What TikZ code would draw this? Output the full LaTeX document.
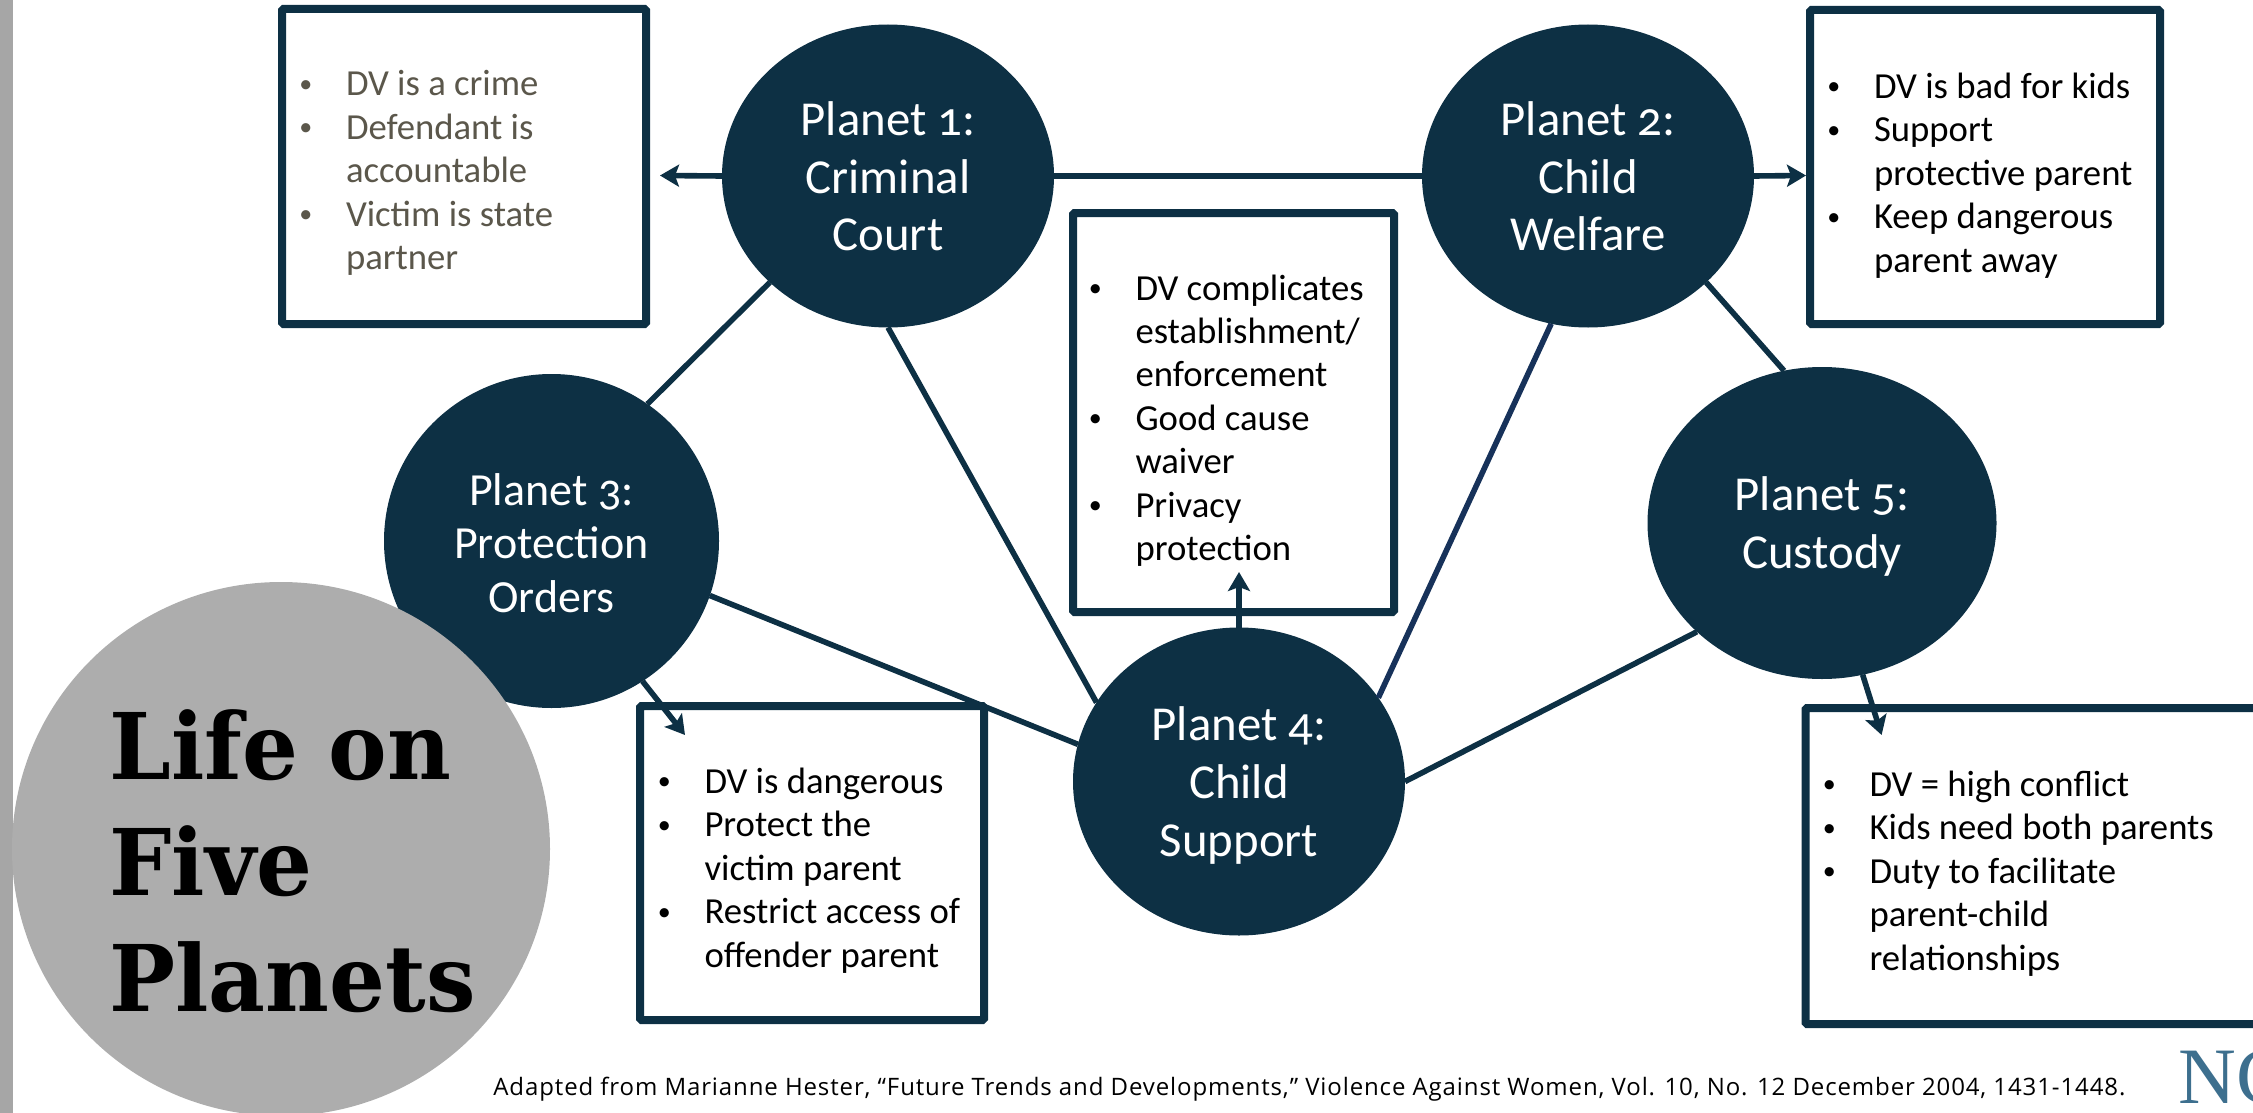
\documentclass[tikz,border=0pt]{standalone}
\usepackage{fontspec}
\usetikzlibrary{shapes.geometric,arrows.meta}
\setmainfont[Numbers=OldStyle]{Carlito}
\newfontfamily\titlefont[FakeStretch=0.955]{DejaVu Serif}
\newfontfamily\notefont[LetterSpace=3.7]{Open Sans}
\newfontfamily\logofont{Liberation Serif}
\definecolor{planetblue}{HTML}{0D3044}
\definecolor{navyline}{HTML}{17325A}
\definecolor{barGrey}{HTML}{A6A6A6}
\definecolor{discGrey}{HTML}{ADADAD}
\definecolor{mutedText}{HTML}{5B574B}
\definecolor{logoBlue}{HTML}{3D6F8E}
\newcommand{\bl}{\makebox[25pt][l]{\hspace{1.7pt}\raisebox{1.8pt}{\fontsize{13}{13}\selectfont •}}}
\newcommand{\ind}{\hspace*{25pt}}
\newcommand{\dropline}[1]{\rule{0pt}{#1}}
\tikzset{
  planet/.style={ellipse,fill=planetblue,draw=none,inner sep=0pt,outer sep=0pt,text=white,align=center,
    font=\fontsize{24.4}{28.8}\selectfont},
  infobox/.style={rectangle,draw=planetblue,line width=4pt,fill=white,inner sep=0pt,outer sep=0pt,rounded corners=0.8pt},
  bullets/.style={inner sep=0pt,outer sep=0pt,anchor=west,align=left,font=\fontsize{18.35}{21.7}\selectfont},
  link/.style={draw=planetblue,line width=2.8pt},
  pointer/.style={link,-{Stealth[length=9.5pt,width=11pt,inset=2pt]}},
}
\begin{document}
\begin{tikzpicture}[x=0.5pt,y=-0.5pt]
\useasboundingbox (0,0) rectangle (2253,1113);
\clip (0,0) rectangle (2253,1113);
\fill[barGrey] (0,0) rectangle (13,1113);

% boxes (size = outer edge minus border)
\node[infobox,minimum width=182pt,minimum height=157.5pt] (b1) at (464,166.5) {};
\node[infobox,minimum width=175pt,minimum height=157pt] (b2) at (1985,167) {};
\node[infobox,minimum width=160.5pt,minimum height=199.5pt] (b4) at (1233.5,412.5) {};
\node[infobox,minimum width=172pt,minimum height=157pt] (b3) at (812,863) {};
\node[infobox,minimum width=232.5pt,minimum height=158pt] (b5) at (2038,866) {};

% planets
\node[planet,minimum width=166pt,minimum height=151.5pt] (p1) at (888,176) {\dropline{17.5pt}Planet 1:\\Criminal\\Court};
\node[planet,minimum width=166pt,minimum height=151.5pt] (p2) at (1588,176) {\dropline{17.5pt}Planet 2:\\Child\\Welfare};
\node[planet,minimum width=167.5pt,minimum height=167pt,font=\fontsize{23}{26.6}\selectfont] (p3) at (551.5,541) {\dropline{18pt}Planet 3:\\Protection\\Orders};
\node[planet,minimum width=166pt,minimum height=154pt] (p4) at (1239,781.5) {\dropline{21pt}Planet 4:\\Child\\Support};
\node[planet,minimum width=174.5pt,minimum height=156pt] (p5) at (1822,523) {\dropline{20.5pt}Planet 5:\\Custody};

% box texts
\node[bullets,text=mutedText] (t1) at (296,173) {\bl DV is a crime\\\bl Defendant is\\\ind accountable\\\bl Victim is state\\\ind partner};
\node[bullets] (t2) at (1824,175.5) {\bl DV is bad for kids\\\bl Support\\\ind protective parent\\\bl Keep dangerous\\\ind parent away};
\node[bullets] (t4) at (1085.5,420.5) {\bl DV complicates\\\ind establishment/\\\ind enforcement\\\bl Good cause\\\ind waiver\\\bl Privacy\\\ind protection};
\node[bullets] (t3) at (654.5,870.5) {\bl DV is dangerous\\\bl Protect the\\\ind victim parent\\\bl Restrict access of\\\ind offender parent};
\node[bullets] (t5) at (1819.5,873.5) {\bl DV = high conflict\\\bl Kids need both parents\\\bl Duty to facilitate\\\ind parent-child\\\ind relationships};

% free arrow ends
\coordinate (a1) at (660,175.5);
\coordinate (a2) at (1806,175.5);
\coordinate (a3) at (685,735);
\coordinate (a4) at (1239,572);
\coordinate (a5) at (1881.6,735);

% connectors
\draw[link] (p1.east) -- (p2.west);
\draw[link] (p1.222) -- (p3.55);
\draw[link] (p1.270) -- (p4.151.3);
\draw[link] (p3.341.2) -- (p4.167.4);
\draw[link,draw=navyline] (p2.256.1) -- (p4.31.7);
\draw[link] (p2.318.7) -- (p5.104);
\draw[link] (p4.0) -- (p5.221.9);
\draw[pointer] (p1.west) -- (a1);
\draw[pointer] (p2.east) -- (a2);
\draw[pointer] (p3.303.2) -- (a3);
\draw[pointer] (p4.north) -- (a4);
\draw[pointer] (p5.285) -- (a5);

% title disc
\node[ellipse,fill=discGrey,inner sep=0pt,outer sep=0pt,minimum width=269pt,minimum height=267pt] (disc) at (281,849) {};
\node[inner sep=0pt,anchor=west,align=left,font=\fontsize{46}{58}\titlefont\bfseries] (title) at (109,861) {Life on\\Five\\Planets};

% footer
\node[inner sep=0pt,anchor=base west,font=\fontsize{12}{14}\notefont] (note) at (493,1095) {Adapted from Marianne Hester, “Future Trends and Developments,” Violence Against Women, Vol. 10, No. 12 December 2004, 1431-1448.};
\node[inner sep=0pt,anchor=base west,text=logoBlue,font=\fontsize{40}{40}\logofont] (logo) at (2178,1103) {NC};
\end{tikzpicture}
\end{document}
